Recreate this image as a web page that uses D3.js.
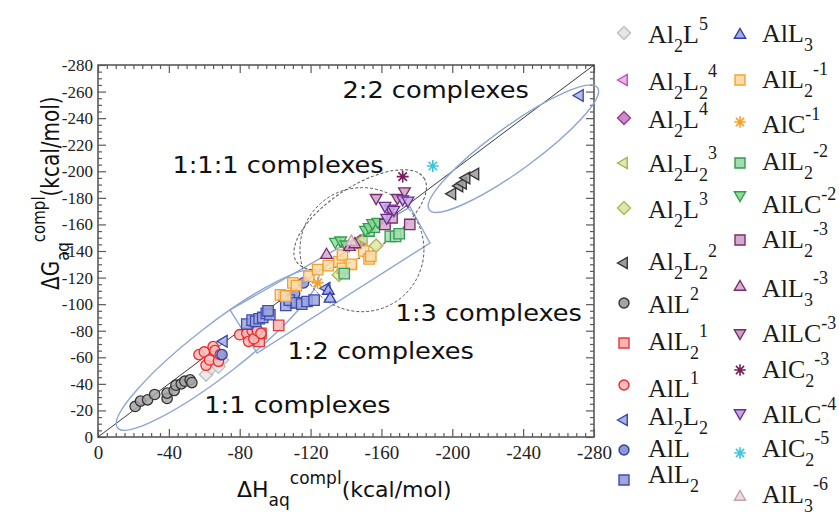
<!DOCTYPE html>
<html><head><meta charset="utf-8">
<script src="https://cdn.jsdelivr.net/npm/d3@7"></script>
<style>body{margin:0;background:#fff;}svg{display:block}</style>
</head><body>
<svg id="c" width="839" height="515"></svg>
<script>
// ---------------- data (kcal/mol) ----------------
const xTicks = [0,-40,-80,-120,-160,-200,-240,-280];
const yTicks = [0,-20,-40,-60,-80,-100,-120,-140,-160,-180,-200,-220,-240,-260,-280];

const al2l5X  = [-61,-64,-68,-70],            al2l5Y  = [-47,-52,-53,-58];
const al2l2p4X = [-140,-145],                  al2l2p4Y = [-144,-146];
const al2lp4X = [-148],                        al2lp4Y = [-147];
const al2l2p3X = [-146,-150],                  al2l2p3Y = [-146,-149];
const al2lp3X = [-136,-157],                   al2lp3Y = [-122,-144];
const al2l2p2X = [-200,-204,-206,-208,-213],   al2l2p2Y = [-183,-189,-191,-195,-198];
const allp2X = [-21,-24,-28,-32,-39,-39,-43,-44,-47,-49,-52,-53];
const allp2Y = [-23,-27,-28,-32,-29,-33,-35,-39,-40,-42,-43,-41];
const all2p1X = [-88,-91,-92,-102],            all2p1Y = [-73,-72,-78,-84];
const allp1X = [-57,-60,-61,-63,-65,-66,-68,-69,-80,-84,-85,-87,-88,-90,-92];
const allp1Y = [-62,-64,-54,-58,-68,-65,-57,-62,-77,-78,-72,-80,-74,-80,-78];
const al2l2X = [-71,-129,-272],                al2l2Y = [-72,-112,-257];
const allX = [-70,-109,-111,-116],             allY = [-62,-101,-108,-116];
const all2X = [-84,-87,-89,-91,-93,-95,-97,-96,-105,-106,-108,-112,-115,-118,-122];
const all2Y = [-85,-88,-87,-89,-90,-93,-92,-95,-106,-99,-103,-101,-100,-102,-103];
const all3X = [-130,-131],                     all3Y = [-110,-104];
const all2m1X = [-103,-106,-110,-112,-119,-124,-130,-136,-138,-138,-143,-150,-153,-154];
const all2m1Y = [-107,-106,-116,-114,-121,-126,-129,-132,-137,-127,-130,-140,-134,-136];
const alcm1X = [-124],                         alcm1Y = [-116];
const all2m2X = [-139,-153,-156,-165,-168,-170], all2m2Y = [-123,-155,-158,-151,-151,-153];
const allcm2X = [-134,-137,-140,-151,-153,-155,-158], allcm2Y = [-147,-148,-145,-156,-158,-161,-162];
const all2m3X = [-162,-166,-176],              all2m3Y = [-160,-165,-160];
const all3m3X = [-129,-142,-145],              all3m3Y = [-137,-143,-145];
const allcm3X = [-157,-165,-169,-173],         allcm3Y = [-180,-172,-180,-185];
const alc2m3X = [-172],                        alc2m3Y = [-196];
const allcm4X = [-162,-167,-172,-175,-163],    allcm4Y = [-174,-171,-179,-178,-165];
const alc2m5X = [-189],                        alc2m5Y = [-204];
const all3m6X = [-143],                        all3m6Y = [-147];

// grouping regions (data units)
const region11  = {a:[-11,-7],   b:[-124,-124], half:25};
const region22  = {a:[-187,-171], b:[-282,-263], half:22};
const region111 = {a:[-112,-132], b:[-184,-195], half:33};
const circle13  = {c:[-149,-141], rx:35, ry:46.7};
const rect12    = [[-74.5,-95.6],[-89.8,-63.2],[-187.4,-146],[-176.2,-173.1]];

// ---------------- series table ----------------
const series = [
 {label:"Al_{2}L^{5}",     shape:"diamond", stroke:"#bdbdbd", fill:"#e6e6e6", xs:al2l5X,  ys:al2l5Y},
 {label:"Al_{2}L_{2}^{4}", shape:"triLeft", stroke:"#c04cbc", fill:"#e8b8e6", xs:al2l2p4X, ys:al2l2p4Y},
 {label:"Al_{2}L^{4}",     shape:"diamond", stroke:"#9a3a96", fill:"#c98cc6", xs:al2lp4X, ys:al2lp4Y},
 {label:"Al_{2}L_{2}^{3}", shape:"triLeft", stroke:"#a6b34a", fill:"#e3e8b8", xs:al2l2p3X, ys:al2l2p3Y},
 {label:"Al_{2}L^{3}",     shape:"diamond", stroke:"#aab852", fill:"#dfe6ac", xs:al2lp3X, ys:al2lp3Y},
 {label:"Al_{2}L_{2}^{2}", shape:"triLeft", stroke:"#333333", fill:"#9c9c9c", xs:al2l2p2X, ys:al2l2p2Y},
 {label:"AlL^{2}",         shape:"circle",  stroke:"#333333", fill:"#a4a4a4", xs:allp2X, ys:allp2Y},
 {label:"AlL_{2}^{1}",     shape:"square",  stroke:"#e23a3a", fill:"#f6b4b4", xs:all2p1X, ys:all2p1Y},
 {label:"AlL^{1}",         shape:"circle",  stroke:"#e82a2a", fill:"#f7bcbc", xs:allp1X, ys:allp1Y},
 {label:"Al_{2}L_{2}",     shape:"triLeft", stroke:"#3444b0", fill:"#aab2e0", xs:al2l2X, ys:al2l2Y},
 {label:"AlL",             shape:"circle",  stroke:"#3040ac", fill:"#8d96d6", xs:allX, ys:allY},
 {label:"AlL_{2}",         shape:"square",  stroke:"#3e4cb0", fill:"#9ea6dc", xs:all2X, ys:all2Y},
 {label:"AlL_{3}",         shape:"triUp",   stroke:"#2e3ea8", fill:"#a4ace4", xs:all3X, ys:all3Y},
 {label:"AlL_{2}^{-1}",    shape:"square",  stroke:"#f2a22a", fill:"#f9dcaa", xs:all2m1X, ys:all2m1Y},
 {label:"AlC^{-1}",        shape:"star",    stroke:"#f7a126", fill:"none",    xs:alcm1X, ys:alcm1Y},
 {label:"AlL_{2}^{-2}",    shape:"square",  stroke:"#2c9e4c", fill:"#a6dab4", xs:all2m2X, ys:all2m2Y},
 {label:"AlLC^{-2}",       shape:"triDown", stroke:"#2ea044", fill:"#92d8a2", xs:allcm2X, ys:allcm2Y},
 {label:"AlL_{2}^{-3}",    shape:"square",  stroke:"#7c2c6c", fill:"#d3aacb", xs:all2m3X, ys:all2m3Y},
 {label:"AlL_{3}^{-3}",    shape:"triUp",   stroke:"#7c2c6c", fill:"#d8b2d2", xs:all3m3X, ys:all3m3Y},
 {label:"AlLC^{-3}",       shape:"triDown", stroke:"#7a2a6a", fill:"#c9a2c6", xs:allcm3X, ys:allcm3Y},
 {label:"AlC_{2}^{-3}",    shape:"star",    stroke:"#7a1c5a", fill:"none",    xs:alc2m3X, ys:alc2m3Y},
 {label:"AlLC^{-4}",       shape:"triDown", stroke:"#6a2c96", fill:"#c6a8e0", xs:allcm4X, ys:allcm4Y},
 {label:"AlC_{2}^{-5}",    shape:"star",    stroke:"#3cc6de", fill:"none",    xs:alc2m5X, ys:alc2m5Y},
 {label:"AlL_{3}^{-6}",    shape:"triUp",   stroke:"#c4a2ac", fill:"#ecdce0", xs:all3m6X, ys:all3m6Y}
];

// ---------------- layout ----------------
const svg = d3.select("#c");
const x = d3.scaleLinear().domain([0,-280]).range([98,594]);
const y = d3.scaleLinear().domain([0,-280]).range([437,65]);
const FRAME = "#5a5a5a";
const SANS = "'DejaVu Sans', sans-serif";
const SERIF = "'Liberation Serif', 'Times New Roman', serif";

function shapePath(shape, s){
  const r = s*1.3;
  switch(shape){
    case "circle": return `M${s},0A${s},${s} 0 1,1 ${-s},0A${s},${s} 0 1,1 ${s},0Z`;
    case "square": return `M${-s},${-s}H${s}V${s}H${-s}Z`;
    case "diamond": {const d=s*1.3; return `M0,${-d}L${d},0L0,${d}L${-d},0Z`;}
    case "triUp": return `M0,${-r}L${r*0.866},${r*0.5}L${-r*0.866},${r*0.5}Z`;
    case "triDown": return `M0,${r}L${r*0.866},${-r*0.5}L${-r*0.866},${-r*0.5}Z`;
    case "triLeft": return `M${-r},0L${r*0.5},${-r*0.866}L${r*0.5},${r*0.866}Z`;
    case "star": {let p=""; for(let i=0;i<4;i++){const a=i*Math.PI/4, c=Math.cos(a)*s*1.15, sn=Math.sin(a)*s*1.15; p+=`M${-c},${-sn}L${c},${sn}`;} return p;}
  }
}

// rich text: "Al_{2}L^{5}"
function richText(sel, spec, size, small, subDy, supDy){
  const re = /([_^])\{([^}]*)\}|([^_^]+)/g; let m, cur=0;
  while((m = re.exec(spec))){
    let txt, target, fs;
    if(m[3]!==undefined){ txt=m[3]; target=0; fs=size; }
    else { txt=m[2]; target = m[1]==="_" ? subDy : supDy; fs=small; }
    sel.append("tspan").attr("dy", target-cur).attr("font-size", fs).text(txt);
    cur = target;
  }
}

// ---- frame & ticks ----
const minorX = d3.range(0,-281,-5).filter(v=>v%40!==0);
const minorY = d3.range(0,-281,-5).filter(v=>v%20!==0);
const axG = svg.append("g");
function addAxis(gen, transform, major, minor, labels){
  const gM = axG.append("g").attr("transform", transform)
    .call(gen.tickValues(major).tickSize(-8).tickPadding(labels?labels:4).tickFormat(labels? (d=>String(d)) : ""));
  const gm = axG.append("g").attr("transform", transform)
    .call(gen.tickValues(minor).tickSize(-4).tickFormat(""));
  [gM,gm].forEach(g=>{ g.select(".domain").remove(); g.selectAll("line").attr("stroke",FRAME).attr("stroke-width",1.2); });
  return gM;
}
const bx = addAxis(d3.axisBottom(x), "translate(0,437)", xTicks, minorX, 9);
bx.selectAll("text").attr("font-family",SERIF).attr("font-size",19).attr("fill","#222");
addAxis(d3.axisTop(x), "translate(0,65)", xTicks, minorX, 0);
const ly = addAxis(d3.axisLeft(y), "translate(98,0)", yTicks, minorY, 5);
ly.selectAll("text").attr("font-family",SERIF).attr("font-size",17).attr("fill","#222");
addAxis(d3.axisRight(y), "translate(594,0)", yTicks, minorY, 0);
axG.append("rect").attr("x",x(0)).attr("y",y(-280)).attr("width",x(-280)-x(0)).attr("height",y(0)-y(-280))
  .attr("fill","none").attr("stroke",FRAME).attr("stroke-width",1.6);

// ---- diagonal ----
svg.append("line").attr("x1",x(0)).attr("y1",y(0)).attr("x2",x(-280)).attr("y2",y(-280))
  .attr("stroke","#222").attr("stroke-width",0.9);

// ---- regions ----
const regG = svg.append("g").attr("fill","none");
function tipEllipse(r, stroke, dash){
  const ax=x(r.a[0]), ay=y(r.a[1]), bx2=x(r.b[0]), by2=y(r.b[1]);
  const cx=(ax+bx2)/2, cy=(ay+by2)/2, len=Math.hypot(bx2-ax,by2-ay)/2;
  const ang=Math.atan2(by2-ay,bx2-ax)*180/Math.PI;
  regG.append("ellipse").attr("cx",0).attr("cy",0).attr("rx",len).attr("ry",r.half)
    .attr("transform",`translate(${cx},${cy}) rotate(${ang})`)
    .attr("stroke",stroke).attr("stroke-width",dash?1:1.4).attr("stroke-dasharray",dash||null);
}
tipEllipse(region11, "#8ea7d2");
tipEllipse(region22, "#8ea7d2");
regG.append("polygon").attr("points", rect12.map(p=>[x(p[0]),y(p[1])].join(",")).join(" "))
  .attr("stroke","#8ea7d2").attr("stroke-width",1.4);
tipEllipse(region111, "#555", "3,2");
regG.append("ellipse").attr("cx",x(circle13.c[0])).attr("cy",y(circle13.c[1]))
  .attr("rx",x(-circle13.rx)-x(0)).attr("ry",y(0)-y(-circle13.ry))
  .attr("stroke","#555").attr("stroke-width",1).attr("stroke-dasharray","3,2");

// ---- points ----
const ptG = svg.append("g");
series.forEach(s=>{
  const pts = s.xs.map((v,i)=>[v,s.ys[i]]);
  ptG.append("g").selectAll("path").data(pts).join("path")
    .attr("transform",d=>`translate(${x(d[0])},${y(d[1])})`)
    .attr("d",shapePath(s.shape,5.2))
    .attr("fill",s.fill).attr("fill-opacity",s.fill==="none"?null:0.85)
    .attr("stroke",s.stroke).attr("stroke-width",s.shape==="star"?1.6:1.3);
});

// ---- annotations ----
const notes = [
  {t:"2:2 complexes",   at:[-138,-255]},
  {t:"1:1:1 complexes", at:[-42,-199]},
  {t:"1:3 complexes",   at:[-168,-87]},
  {t:"1:2 complexes",   at:[-107,-59]},
  {t:"1:1 complexes",   at:[-60,-18]}
];
notes.forEach(n=>{
  svg.append("g").attr("transform",`translate(${x(n.at[0])},${y(n.at[1])}) scale(1.14,1)`)
    .append("text").attr("font-family",SANS).attr("font-size",22.5).attr("fill","#111").text(n.t);
});

// ---- axis titles ----
const xt = svg.append("text").attr("x",237).attr("y",497).attr("font-family",SANS).attr("fill","#111");
richText(xt, "ΔH_{aq}^{compl}(kcal/mol)", 22, 17, 9, -13);
const yt = svg.append("g").attr("transform","translate(59,290) scale(1.2,1) rotate(-90)")
  .append("text").attr("font-family",SANS).attr("fill","#111");
richText(yt, "ΔG_{aq}^{compl}(kcal/mol)", 20, 15, 8, -12);

// ---- legend ----
const legCols = [{sx:624, tx:648}, {sx:740, tx:762}];
const legSymY = [[33,80,118,163,208,263,303,343,385,420,450,480],[35,80,122,163,195,240,287,333,370,413,453,497]];
const legBase = [[43,90,128,172,218,270,313,350,397,425,457,483],[42,88,133,170,213,248,297,342,378,423,457,503]];
const lg = svg.append("g");
series.forEach((s,i)=>{
  const c = Math.floor(i/12), r = i%12;
  lg.append("path").attr("transform",`translate(${legCols[c].sx},${legSymY[c][r]})`)
    .attr("d",shapePath(s.shape,5)).attr("fill",s.fill).attr("stroke",s.stroke)
    .attr("stroke-width",s.shape==="star"?1.6:1.4);
  const t = lg.append("text").attr("x",legCols[c].tx).attr("y",legBase[c][r])
    .attr("font-family",SERIF).attr("fill","#1a1a1a");
  richText(t, s.label, 26, 18, 9, -13);
});
</script>
</body></html>
